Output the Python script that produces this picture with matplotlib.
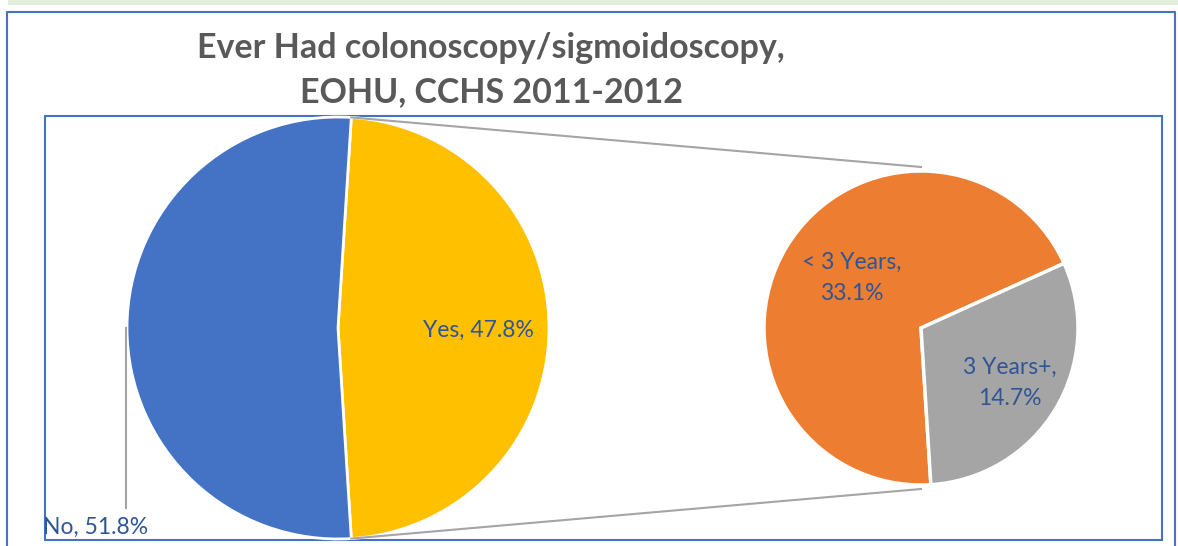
import numpy as np
import matplotlib
matplotlib.use("Agg")
import matplotlib.pyplot as plt
from matplotlib.patches import Rectangle

# ─── Dati ─────────────────────────────────────────────────────────────────────
main_labels = ["Yes", "No"]
main_values = [47.8, 51.8]
main_colors = ["#FFC000", "#4472C4"]

sub_labels = ["< 3 Years", "3 Years+"]
sub_values = [33.1, 14.7]
sub_colors = ["#ED7D31", "#A5A5A5"]

title = "Ever Had colonoscopy/sigmoidoscopy,\nEOHU, CCHS 2011-2012"

# ─── Layout (pixel, y verso l'alto) ───────────────────────────────────────────
W, H = 1178, 546
big_c, big_r = (338, 218), 211
small_c, small_r = (921, 218), 157
label_col = "#2F5597"
plt.rcParams["font.family"] = ["Lato", "DejaVu Sans"]

fig = plt.figure(figsize=(W / 100, H / 100), dpi=100)
ax = fig.add_axes([0, 0, 1, 1])

# fascia verde in alto + bordi
ax.add_patch(Rectangle((8, H - 5), W - 8, 5, color="#E2EFDA", lw=0))
ax.plot([7, 7, 1175, 1175], [0, H - 12, H - 12, 0], color="#4472C4", lw=1.5)
ax.add_patch(Rectangle((45, H - 540), 1117, 424, fill=False,
                       ec="#4472C4", lw=1.5))

# torta principale: "Yes" centrata a destra
yes_span = main_values[0] / sum(main_values) * 360
ax.pie(main_values, colors=main_colors, center=big_c, radius=big_r,
       startangle=-yes_span / 2, counterclock=True, frame=True,
       wedgeprops=dict(edgecolor="white", linewidth=2))

# seconda torta: scomposizione di "Yes"
sub_start = -yes_span / 2 + sub_values[1] / sum(sub_values) * 360
ax.pie(sub_values, colors=sub_colors, center=small_c, radius=small_r,
       startangle=sub_start, counterclock=True, frame=True,
       wedgeprops=dict(edgecolor="white", linewidth=2.5))

# linee di collegamento
a = np.deg2rad(yes_span / 2)
for s in (1, -1):
    x0 = big_c[0] + big_r * np.cos(a)
    y0 = big_c[1] + s * big_r * np.sin(a)
    ax.plot([x0, small_c[0]], [y0, small_c[1] + s * (small_r + 4)],
            color="#A5A5A5", lw=1.5)

# etichette
fs = 16.5
ax.text(478, H - 330, f"{main_labels[0]}, {main_values[0]}%", color=label_col,
        fontsize=fs, ha="center", va="center")
ax.plot([big_c[0] - big_r - 1] * 2, [big_c[1], H - 508], color="#A5A5A5", lw=1.5)
ax.text(96, H - 527, f"{main_labels[1]}, {main_values[1]}%", color=label_col,
        fontsize=fs, ha="center", va="center")
ax.text(852, H - 278, f"{sub_labels[0]},\n{sub_values[0]}%", color=label_col,
        fontsize=fs, ha="center", va="center", linespacing=1.55)
ax.text(1010, H - 383, f"{sub_labels[1]},\n{sub_values[1]}%", color=label_col,
        fontsize=fs, ha="center", va="center", linespacing=1.55)

ax.text(491, H - 70, title, color="#595959", fontsize=24.5, fontweight="bold",
        ha="center", va="center", linespacing=1.45)

ax.set_xlim(0, W)
ax.set_ylim(0, H)
ax.set_aspect("auto")
ax.axis("off")
fig.savefig("out.png", dpi=100)
